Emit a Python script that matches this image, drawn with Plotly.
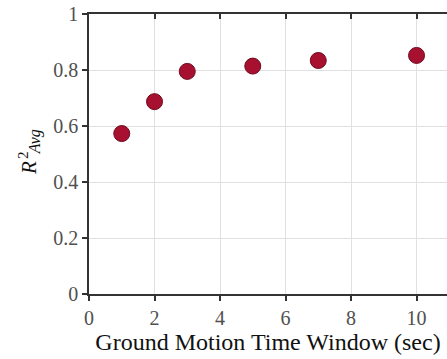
import plotly.graph_objects as go

# Time window length (sec) and average R^2
window_sec = [1, 2, 3, 5, 7, 10]
r2_avg = [0.573, 0.687, 0.795, 0.814, 0.834, 0.852]

x_ticks = [0, 2, 4, 6, 8, 10]
y_ticks = [0, 0.2, 0.4, 0.6, 0.8, 1]
y_tick_text = ["0", "0.2", "0.4", "0.6", "0.8", "1"]

serif = "Liberation Serif, Times New Roman, serif"
x_range = [0, 10.93]
tick_font = dict(family=serif, size=20, color="#505050")

fig = go.Figure()
fig.add_trace(go.Scatter(
    x=window_sec, y=r2_avg, mode="markers",
    marker=dict(size=16, color="#A8102F", line=dict(color="#6E0A1F", width=1)),
    showlegend=False, hoverinfo="x+y",
))
# invisible trace that carries the top frame axis
fig.add_trace(go.Scatter(x=[0], y=[0], xaxis="x2", mode="markers",
                         marker=dict(opacity=0), showlegend=False, hoverinfo="skip"))

fig.update_layout(
    width=447, height=359,
    margin=dict(l=89, r=0, t=14, b=65),
    paper_bgcolor="white", plot_bgcolor="white",
    font=dict(family=serif, color="#333333", size=18),
    xaxis=dict(
        range=x_range, tickvals=x_ticks, ticks="outside", ticklen=5, tickwidth=1.5,
        tickcolor="#333333", showline=True, linecolor="#333333", linewidth=1.5,
        showgrid=True, gridcolor="#E0E0E0", gridwidth=1, zeroline=False,
        tickfont=tick_font,
        title=dict(text="Ground Motion Time Window (sec)", standoff=2,
                   font=dict(family=serif, size=24, color="#111111")),
    ),
    xaxis2=dict(
        range=x_range, overlaying="x", side="top", tickvals=x_ticks,
        ticks="inside", ticklen=5, tickwidth=1.5, tickcolor="#333333",
        showline=True, linecolor="#333333", linewidth=1.5,
        showgrid=False, zeroline=False, showticklabels=False,
    ),
    yaxis=dict(
        range=[0, 1], tickvals=y_ticks, ticktext=y_tick_text, ticks="outside",
        ticklen=5, tickwidth=1.5, tickcolor="#333333",
        showline=True, linecolor="#333333", linewidth=1.5,
        showgrid=True, gridcolor="#E0E0E0", gridwidth=1, zeroline=False,
        tickfont=tick_font,
    ),
)

# y-axis label: R with stacked superscript 2 and subscript Avg
label_font = dict(family=serif, color="#111111")
label_parts = [
    ("<i>R</i>", 0.45, 29, 21),
    ("2", 0.496, 23, 15),
    ("<i>Avg</i>", 0.542, 35, 16),
]
for text, y_val, px, size in label_parts:
    fig.add_annotation(text=text, xref="paper", yref="y", x=0, y=y_val,
                       xshift=px - 89, xanchor="center", yanchor="middle",
                       textangle=-90, showarrow=False,
                       font=dict(size=size, **label_font))

fig.write_html("out.html")
